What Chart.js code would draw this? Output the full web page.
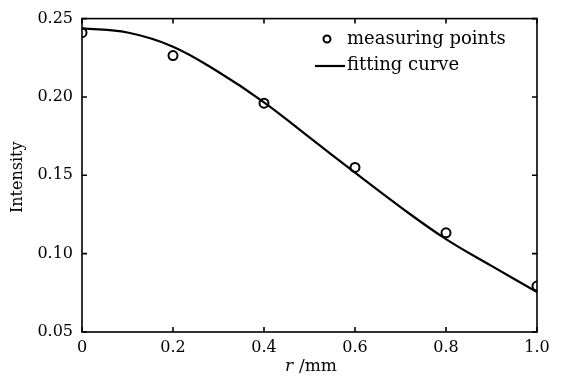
<!DOCTYPE html>
<html>
<head>
<meta charset="utf-8">
<script src="https://cdn.jsdelivr.net/npm/chart.js@4.4.0/dist/chart.umd.min.js"></script>
<style>
  html, body { margin: 0; padding: 0; background: #fff; }
</style>
</head>
<body>
<canvas id="intensityChart" width="564" height="378"></canvas>
<script>
// measured intensity at each radius
const radius = [0, 0.2, 0.4, 0.6, 0.8, 1.0];
const measured = [0.241, 0.2264, 0.196, 0.155, 0.1133, 0.0793];

// fitting curve
const fitRadius = [0, 0.1, 0.2, 0.3, 0.4, 0.5, 0.6, 0.7, 0.8, 0.9, 1.0];
const fitted = [0.2438, 0.2411, 0.2321, 0.2159, 0.1966, 0.1742, 0.1517, 0.1297, 0.1093, 0.0922, 0.0755];

const xTicks = [0, 0.2, 0.4, 0.6, 0.8, 1.0];
const yTicks = [0.05, 0.10, 0.15, 0.20, 0.25];

const FONT = '"DejaVu Serif", "Liberation Serif", serif';

// frame, inward ticks, axis titles and legend
const decorations = {
    id: 'decorations',
    afterDraw(chart) {
        const ctx = chart.ctx;
        const area = chart.chartArea;
        const xs = chart.scales.x;
        const ys = chart.scales.y;
        const tick = 5;

        ctx.save();
        ctx.strokeStyle = '#000';
        ctx.lineWidth = 1.6;
        ctx.strokeRect(area.left, area.top, area.right - area.left, area.bottom - area.top);

        ctx.beginPath();
        xTicks.forEach(v => {
            const px = xs.getPixelForValue(v);
            ctx.moveTo(px, area.bottom); ctx.lineTo(px, area.bottom - tick);
            ctx.moveTo(px, area.top); ctx.lineTo(px, area.top + tick);
        });
        yTicks.forEach(v => {
            const py = ys.getPixelForValue(v);
            ctx.moveTo(area.left, py); ctx.lineTo(area.left + tick, py);
            ctx.moveTo(area.right, py); ctx.lineTo(area.right - tick, py);
        });
        ctx.stroke();

        // y title
        ctx.fillStyle = '#000';
        ctx.font = '16px ' + FONT;
        ctx.textAlign = 'center';
        ctx.textBaseline = 'middle';
        ctx.save();
        ctx.translate(18, (area.top + area.bottom) / 2 + 2);
        ctx.rotate(-Math.PI / 2);
        ctx.fillText('Intensity', 0, 0);
        ctx.restore();

        // x title, r in italics
        ctx.textAlign = 'left';
        ctx.font = 'italic 17px ' + FONT;
        ctx.fillText('r', 285, 367);
        ctx.font = '17px ' + FONT;
        ctx.fillText('/mm', 299, 367);

        // legend
        const pts = chart.data.datasets[0];
        const fit = chart.data.datasets[1];
        ctx.font = '18px ' + FONT;
        ctx.beginPath();
        ctx.arc(327, 39, 3.5, 0, Math.PI * 2);
        ctx.lineWidth = pts.borderWidth;
        ctx.strokeStyle = pts.borderColor;
        ctx.stroke();
        ctx.fillText(pts.label, 347, 39);

        ctx.beginPath();
        ctx.moveTo(315, 66);
        ctx.lineTo(345, 66);
        ctx.lineWidth = fit.borderWidth;
        ctx.strokeStyle = fit.borderColor;
        ctx.stroke();
        ctx.fillText(fit.label, 347, 65);
        ctx.restore();
    }
};

new Chart(document.getElementById('intensityChart'), {
    type: 'scatter',
    data: {
        datasets: [
            {
                label: 'measuring points',
                data: radius.map((r, i) => ({ x: r, y: measured[i] })),
                showLine: false,
                pointStyle: 'circle',
                pointRadius: 4.5,
                pointBorderWidth: 2,
                borderWidth: 2,
                borderColor: '#000',
                backgroundColor: 'rgba(0,0,0,0)'
            },
            {
                label: 'fitting curve',
                data: fitRadius.map((r, i) => ({ x: r, y: fitted[i] })),
                showLine: true,
                tension: 0.4,
                pointRadius: 0,
                borderWidth: 2.2,
                borderColor: '#000',
                backgroundColor: '#000'
            }
        ]
    },
    options: {
        responsive: false,
        animation: false,
        maintainAspectRatio: false,
        devicePixelRatio: 1,
        layout: { padding: { top: 16, right: 27, left: 0, bottom: 0 } },
        plugins: {
            legend: { display: false },
            tooltip: { enabled: false }
        },
        scales: {
            x: {
                type: 'linear',
                min: 0,
                max: 1,
                afterFit: s => { s.height = 46; },
                afterBuildTicks: s => { s.ticks = xTicks.map(v => ({ value: v })); },
                grid: { display: false, drawTicks: false },
                border: { display: false },
                ticks: {
                    color: '#000',
                    padding: 6,
                    autoSkip: false,
                    maxRotation: 0,
                    font: { family: FONT, size: 16 },
                    callback: v => (v === 0 ? '0' : v.toFixed(1))
                }
            },
            y: {
                type: 'linear',
                min: 0.05,
                max: 0.25,
                afterFit: s => { s.width = 82; },
                afterBuildTicks: s => { s.ticks = yTicks.map(v => ({ value: v })); },
                grid: { display: false, drawTicks: false },
                border: { display: false },
                ticks: {
                    color: '#000',
                    padding: 9,
                    autoSkip: false,
                    font: { family: FONT, size: 16 },
                    callback: v => v.toFixed(2)
                }
            }
        }
    },
    plugins: [decorations]
});
</script>
</body>
</html>
